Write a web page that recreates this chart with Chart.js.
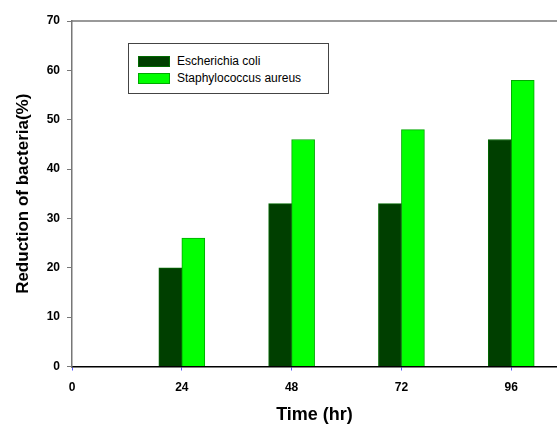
<!DOCTYPE html>
<html>
<head>
    <title>Reduction of bacteria</title>
    <script src="https://cdn.jsdelivr.net/npm/chart.js"></script>
    <style>
        body {
            margin: 0;
            background: #fff;
            font-family: Arial, "Liberation Sans", sans-serif;
        }

        .chart-container {
            position: relative;
            width: 557px;
            height: 426px;
        }

        .legend {
            position: absolute;
            left: 128px;
            top: 43px;
            width: 199px;
            height: 49px;
            border: 1px solid #444;
            background: #fff;
            box-sizing: content-box;
        }

        .legend-item {
            position: absolute;
            left: 9px;
            height: 12px;
            display: flex;
            align-items: center;
            font-size: 12px;
            color: #000;
            white-space: nowrap;
        }

        .legend-swatch {
            width: 30px;
            height: 9px;
            border: 1px solid;
            margin-right: 7px;
        }
    </style>
</head>
<body>
    <div class="chart-container">
        <canvas id="bacteria-chart" width="557" height="426"></canvas>
        <div class="legend" id="legend"></div>
    </div>

    <script>
        const hours = [24, 48, 72, 96];
        const xTicks = [0, 24, 48, 72, 96];
        const ecoli = [20, 33, 33, 46];
        const saureus = [26, 46, 48, 58];
        const seriesNames = ['Escherichia coli', 'Staphylococcus aureus'];
        const fillColors = ['#003f00', '#00ff00'];
        const edgeColors = ['#006a00', '#00a800'];

        // linie oben am Plotbereich
        const topLine = {
            id: 'topLine',
            afterDraw(chart) {
                const a = chart.chartArea;
                const ctx = chart.ctx;
                ctx.save();
                ctx.strokeStyle = '#777';
                ctx.lineWidth = 1.5;
                ctx.beginPath();
                ctx.moveTo(a.left, a.top);
                ctx.lineTo(a.right, a.top);
                ctx.stroke();
                ctx.restore();
            }
        };

        const datasets = [ecoli, saureus].map((values, i) => ({
            label: seriesNames[i],
            data: hours.map((h, j) => ({ x: h, y: values[j] })),
            backgroundColor: fillColors[i],
            borderColor: edgeColors[i],
            borderWidth: 1,
            barThickness: 23
        }));

        const ctx = document.getElementById('bacteria-chart').getContext('2d');
        const chart = new Chart(ctx, {
            type: 'bar',
            data: { datasets: datasets },
            options: {
                responsive: false,
                animation: false,
                layout: { padding: { top: 21, right: 0, left: 0, bottom: 0 } },
                plugins: {
                    legend: { display: false },
                    tooltip: { enabled: false }
                },
                scales: {
                    x: {
                        type: 'linear',
                        min: 0,
                        max: 106,
                        offset: false,
                        afterBuildTicks: scale => {
                            scale.ticks = xTicks.map(v => ({ value: v }));
                        },
                        afterFit: scale => { scale.height = 59.5; },
                        grid: {
                            offset: false,
                            drawOnChartArea: false,
                            tickLength: 4,
                            color: '#5a5aff'
                        },
                        border: { color: '#000', width: 1.5 },
                        ticks: {
                            padding: 10,
                            color: '#000',
                            font: { family: 'Arial, "Liberation Sans"', size: 12, weight: 'bold' }
                        },
                        title: {
                            display: true,
                            text: 'Time (hr)',
                            color: '#000',
                            padding: { top: 0, bottom: 0 },
                            font: { family: 'Arial, "Liberation Sans"', size: 18, weight: 'bold' }
                        }
                    },
                    y: {
                        min: 0,
                        max: 70,
                        afterFit: scale => { scale.width = 72; },
                        grid: {
                            drawOnChartArea: false,
                            tickLength: 5,
                            color: '#777'
                        },
                        border: { color: '#777', width: 1.5 },
                        ticks: {
                            stepSize: 10,
                            padding: 7,
                            color: '#000',
                            font: { family: 'Arial, "Liberation Sans"', size: 12, weight: 'bold' }
                        },
                        title: {
                            display: true,
                            text: 'Reduction of bacteria(%)',
                            color: '#000',
                            padding: { top: 13, bottom: 0 },
                            font: { family: 'Arial, "Liberation Sans"', size: 17, weight: 'bold' }
                        }
                    }
                }
            },
            plugins: [topLine]
        });

        // legende als html
        const legend = document.getElementById('legend');
        seriesNames.forEach((name, i) => {
            const item = document.createElement('div');
            item.className = 'legend-item';
            item.style.top = (11 + i * 17) + 'px';
            const sw = document.createElement('span');
            sw.className = 'legend-swatch';
            sw.style.background = fillColors[i];
            sw.style.borderColor = edgeColors[i];
            const txt = document.createElement('span');
            txt.textContent = name;
            item.appendChild(sw);
            item.appendChild(txt);
            legend.appendChild(item);
        });
    </script>
</body>
</html>
